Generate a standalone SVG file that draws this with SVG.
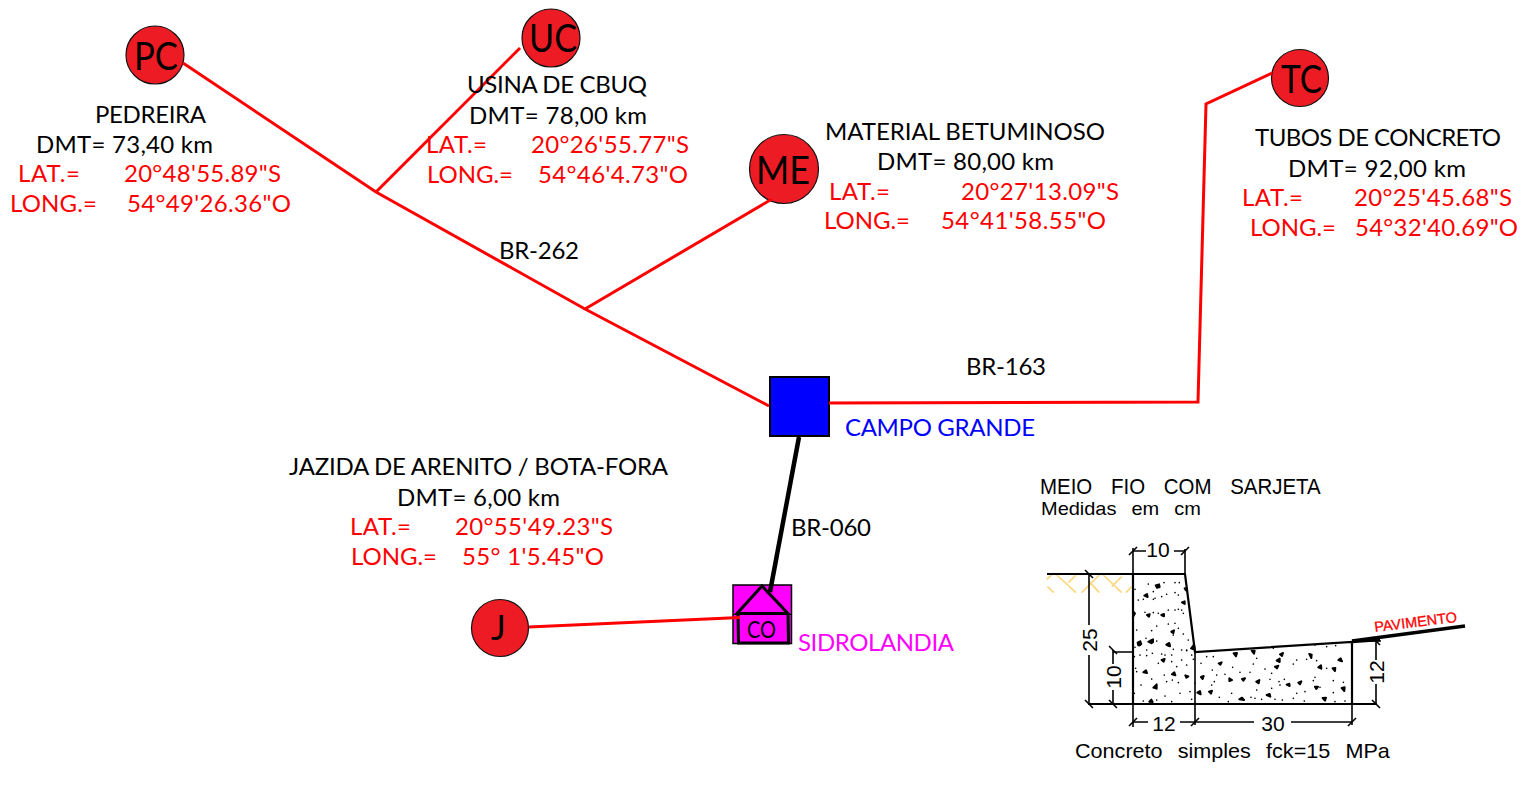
<svg xmlns="http://www.w3.org/2000/svg" width="1529" height="786" viewBox="0 0 1529 786">
<style>
.t{font-family:Lato,"Open Sans","Liberation Sans",sans-serif;font-size:24px;fill:#000}
.r{fill:#f00}
.n{fill:#ed1c24;stroke:#111;stroke-width:1.2}
.lbl{font-family:Lato,"Open Sans","Liberation Sans",sans-serif;fill:#000}
.road{fill:none;stroke:#f00;stroke-width:3}
.cad{font-family:"Liberation Sans",sans-serif;fill:#000}
.dim{fill:none;stroke:#000;stroke-width:1.6}
.thick{fill:none;stroke:#000;stroke-width:2.2}
</style>
<rect width="1529" height="786" fill="#fff"/>
<g id="node-pc"><circle class="n" cx="155" cy="55" r="29"/><text class="lbl" x="134" y="70" font-size="38" textLength="44" lengthAdjust="spacingAndGlyphs">PC</text></g>
<g id="node-uc"><circle class="n" cx="551" cy="38" r="29"/><text class="lbl" x="529" y="52" font-size="38" textLength="48" lengthAdjust="spacingAndGlyphs">UC</text></g>
<g id="node-me"><circle class="n" cx="784" cy="169" r="34.500"/><text class="lbl" x="756" y="184" font-size="38" textLength="54" lengthAdjust="spacingAndGlyphs">ME</text></g>
<g id="node-tc"><circle class="n" cx="1300" cy="78" r="28.500"/><text class="lbl" x="1281" y="93" font-size="38" textLength="41" lengthAdjust="spacingAndGlyphs">TC</text></g>
<g id="node-j"><circle class="n" cx="500" cy="628" r="28.500"/><text class="lbl" x="491" y="640" font-size="35">J</text></g>
<g id="node-campo-grande"><rect x="770" y="377" width="59" height="59" fill="#00f" stroke="#000" stroke-width="2"/><text class="t" x="845" y="436" style="fill:#0000ff" textLength="190">CAMPO GRANDE</text></g>
<g id="node-sidrolandia">
<rect x="733" y="585" width="58.500" height="58.500" fill="#f0f" stroke="#000" stroke-width="1.500"/>
<path d="M737 613.500L762 586L788 613.500Z" fill="#f0f" stroke="#000" stroke-width="3"/>
<path d="M738 614L738.500 643H788.500L788 614" fill="none" stroke="#000" stroke-width="3"/>
<text class="lbl" x="747" y="638" font-size="24" textLength="29" lengthAdjust="spacingAndGlyphs">CO</text>
<text class="t" x="798" y="651" style="fill:#f0f" textLength="156">SIDROLANDIA</text>
</g>
<g id="connectors">
<path class="road" d="M183 63L376 192L585 309L769 406"/>
<path class="road" d="M376 192L520 48"/>
<path class="road" d="M585 309L772 199"/>
<path class="road" d="M829 403L1198 402L1206 104L1272 73"/>
<path class="road" d="M529 627L740 617.500"/>
<path d="M799 437L770 592" fill="none" stroke="#000" stroke-width="4.500"/>
</g>
<g id="label-pedreira"><text class="t" x="95" y="123" textLength="111">PEDREIRA</text><text class="t" x="36" y="153" textLength="177">DMT= 73,40 km</text><text class="t r" x="18" y="182" textLength="62">LAT.=</text><text class="t r" x="124" y="182" textLength="157">20°48'55.89"S</text><text class="t r" x="10" y="212" textLength="87">LONG.=</text><text class="t r" x="127" y="212" textLength="164">54°49'26.36"O</text></g>
<g id="label-usina"><text class="t" x="467" y="93" textLength="180">USINA DE CBUQ</text><text class="t" x="469" y="124" textLength="178">DMT= 78,00 km</text><text class="t r" x="426" y="153" textLength="61">LAT.=</text><text class="t r" x="531" y="153" textLength="158">20°26'55.77"S</text><text class="t r" x="427" y="183" textLength="86">LONG.=</text><text class="t r" x="538" y="183" textLength="150">54°46'4.73"O</text></g>
<g id="label-material"><text class="t" x="825" y="140" textLength="280">MATERIAL BETUMINOSO</text><text class="t" x="877" y="170" textLength="177">DMT= 80,00 km</text><text class="t r" x="829" y="200" textLength="61">LAT.=</text><text class="t r" x="961" y="200" textLength="158">20°27'13.09"S</text><text class="t r" x="824" y="229" textLength="86">LONG.=</text><text class="t r" x="941" y="229" textLength="165">54°41'58.55"O</text></g>
<g id="label-tubos"><text class="t" x="1255" y="146" textLength="246">TUBOS DE CONCRETO</text><text class="t" x="1288" y="177" textLength="178">DMT= 92,00 km</text><text class="t r" x="1242" y="206" textLength="61">LAT.=</text><text class="t r" x="1354" y="206" textLength="158">20°25'45.68"S</text><text class="t r" x="1250" y="236" textLength="86">LONG.=</text><text class="t r" x="1355" y="236" textLength="163">54°32'40.69"O</text></g>
<g id="label-jazida"><text class="t" x="289" y="475" textLength="379">JAZIDA DE ARENITO / BOTA-FORA</text><text class="t" x="397" y="506" textLength="163">DMT= 6,00 km</text><text class="t r" x="350" y="535" textLength="61">LAT.=</text><text class="t r" x="455" y="535" textLength="158">20°55'49.23"S</text><text class="t r" x="351" y="565" textLength="86">LONG.=</text><text class="t r" x="462" y="565" textLength="142">55° 1'5.45"O</text></g>
<text class="t" x="499" y="259" textLength="80">BR-262</text>
<text class="t" x="966" y="375" textLength="80">BR-163</text>
<text class="t" x="791" y="536" textLength="80">BR-060</text>
<g id="curb-detail">
<g transform="translate(1040 540) scale(.33333)" fill="none" stroke="#fbd87f" stroke-width="5">
<path d="M50 105L108 158M108 105L85 128M20 118L35 105M22 140L42 158M178 105L125 158M148 125L178 158M190 105L245 158M245 110L215 140M275 140L258 158"/>
</g>
<path class="thick" d="M1047 574H1185L1195 652L1352 642V704M1133 574V704M1088 704H1377"/>
<path d="M1352 641L1465 626" fill="none" stroke="#000" stroke-width="3.500"/>
<path d="M1352 642L1380 640" fill="none" stroke="#000" stroke-width="2.500"/>
<path class="dim" d="M1133 548V727M1185 549V574M1195 652V725M1352 704V725M1113 652H1133M1352 641H1381"/>
<path class="dim" d="M1133 551H1146M1174 551H1185M1133 722H1148M1180 722H1195M1195 722H1254M1291 722H1352M1089 574V625M1089 655V704M1113 650V664M1113 690V704M1376 641V660M1376 684V704"/>
<path class="dim" d="M1129 555L1137 547M1181 555L1189 547M1129 726L1137 718M1191 726L1199 718M1348 726L1356 718M1085 570L1093 578M1085 700L1093 708M1109 646L1117 654M1109 700L1117 708M1372 637L1380 645M1372 700L1380 708"/>
<g class="cad" font-size="21"><text x="1158" y="557" text-anchor="middle">10</text><text x="1164" y="731" text-anchor="middle">12</text><text x="1273" y="731" text-anchor="middle">30</text>
<text transform="translate(1097 640) rotate(-90)" text-anchor="middle">25</text><text transform="translate(1121 677) rotate(-90)" text-anchor="middle">10</text><text transform="translate(1384 672) rotate(-90)" text-anchor="middle">12</text></g>
<text class="cad" transform="translate(1040 494) scale(.93 1)" font-size="22" word-spacing="14">MEIO FIO COM SARJETA</text>
<text class="cad" transform="translate(1041 515) scale(1.11 1)" font-size="18" word-spacing="8.500">Medidas em cm</text>
<text class="cad" transform="translate(1075 758) scale(1.08 1)" font-size="20" word-spacing="8.500">Concreto simples fck=15 MPa</text>
<text transform="translate(1375 632) rotate(-7)" font-family="'Liberation Sans',sans-serif" font-size="14.500" fill="#f00" stroke="#f00" stroke-width="0.300">PAVIMENTO</text>
<g id="stipple">
<g transform="translate(1040 540) scale(.33333)" fill="none" stroke="#000" stroke-linecap="round" stroke-linejoin="round">
<path stroke-width="5" d="M325 132h0M372 128h0M405 128h0M418 128h0M285 148h0M340 155h0M345 175h0M365 170h0M380 163h0M405 158h0M415 165h0M295 180h0M310 178h0M340 178h0M415 208h0M405 210h0M425 210h0M385 210h0M340 218h0M355 220h0M315 217h0M430 220h0M290 270h0M350 258h0M385 252h0M405 250h0M335 272h0M400 285h0M430 282h0M318 295h0M415 265h0M445 300h0M320 330h0M375 345h0M440 332h0M300 345h0M455 345h0"/>
<path stroke-width="6" fill="#000" d="M347 136l10-3 2 8-8 2zM313 167l8-5 2 9zM426 187l8-3v8zM280 215l5 5-4 7zM321 225l8-2-2 7zM364 225l8-3v7zM394 275l8-4-2 9zM294 310l6-5 4 7-6 4zM331 302l8-4v9zM381 315l7-5 2 9zM453 325l6-3 2 6zM434 145l6 1-2 5z"/>
</g>
<g transform="translate(1125 640) scale(.33333)" fill="none" stroke="#000" stroke-linecap="round" stroke-linejoin="round">
<path stroke-width="5" d="M28 50h0M65 47h0M82 40h0M110 42h0M140 45h0M170 30h0M205 58h0M245 50h0M265 50h0M140 65h0M100 70h0M170 60h0M185 75h0M228 70h0M155 80h0M32 85h0M35 95h0M80 117h0M118 105h0M125 125h0M142 120h0M160 128h0M262 90h0M275 105h0M300 103h0M323 82h0M345 97h0M375 97h0M385 72h0M395 55h0M420 87h0M440 100h0M515 60h0M505 72h0M545 58h0M575 62h0M605 85h0M570 112h0M625 122h0M655 127h0M435 118h0M462 125h0M478 118h0M268 125h0M260 135h0M210 130h0M195 155h0M165 160h0M120 168h0M48 135h0M28 160h0M55 183h0M95 180h0M140 185h0M200 178h0M283 172h0M310 185h0M320 160h0M378 172h0M390 175h0M410 178h0M450 178h0M472 180h0M505 175h0M515 160h0M540 155h0M538 183h0M625 158h0M630 185h0M660 183h0M565 122h0M585 142h0M605 20h0M632 17h0M570 15h0M445 25h0M310 30h0M185 30h0M145 28h0M95 3h0M30 22h0M395 150h0M440 145h0M465 135h0"/>
<path stroke-width="6" fill="#000" d="M38 8l8-4 1 9-7 3zM70 5l10-3v8zM124 14l8-5 2 9zM201 22l6-8 2 12zM326 40l10-1-3 10zM380 32l9 0-2 9zM465 43l9-4-3 9zM553 42l7 2-1 10zM455 62l9-6v10zM640 60l7-5 4 9zM110 60l9-3-3 8zM281 70l9-3-4 7zM450 80l10-3-4 8zM580 82l8-6 1 10zM623 85l8-1-1 9zM55 97l8-6 3 8zM141 103l7-6 3 9zM181 106l9 3-6 4zM228 111l8-3-3 9zM313 115l8 5-8 3zM351 117l9-2-5 7zM394 125l9-5-2 10zM85 143l10-10v13zM485 134l8-3 1 7zM520 128l9-4-4 9zM570 140l9 0-5 7zM650 144l9-2-1 11zM217 158l8-5 2 10zM252 155l9-3-3 9zM425 165l9-3 2 8zM343 178l8-5 6 7zM593 174l10-1-3 9zM73 185l6-6 4 7z"/>
</g>
</g>
</g>
</svg>
